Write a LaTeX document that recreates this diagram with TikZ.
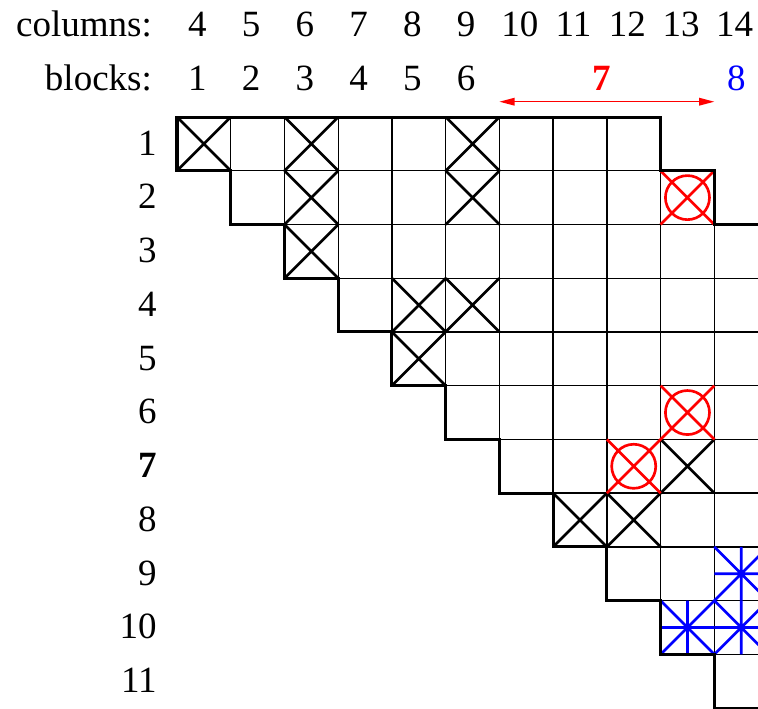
\documentclass[tikz,border=0pt]{standalone}
\usepackage{fontspec}
\setmainfont{Liberation Serif}
\usetikzlibrary{arrows.meta}

\begin{document}
\begin{tikzpicture}[
  cell/.style={draw, line width=0.7pt},
  outline/.style={draw, line width=1.6pt, line join=miter},
  cross/.style={draw, line width=1.4pt},
  redcross/.style={draw=red, line width=1.4pt},
  bluestar/.style={draw=blue, line width=1.4pt},
  lbl/.style={font=\fontsize{19.6}{24}\selectfont, inner sep=0pt, anchor=base},
  rowlbl/.style={lbl, anchor=base east}
]
\useasboundingbox (-3.294,2.178) rectangle (10.813,-11.01);
\clip (-3.294,2.178) rectangle (10.813,-11.01);

% header labels
\node[lbl, anchor=base east] (colhead) at (-0.46,1.507) {columns:};
\node[lbl, anchor=base east] (blkhead) at (-0.46,0.50) {blocks:};
\foreach \c in {4,...,14}
  \node[lbl] (col\c) at (\c-4+0.5-0.12,1.507) {\c};
\foreach \b in {1,...,6}
  \node[lbl] (blk\b) at (\b-1+0.5-0.12,0.50) {\b};
\node[lbl, text=red, font=\fontsize{19.6}{24}\selectfont\bfseries] (blk7) at (7.9,0.50) {7};
\node[lbl, text=blue] (blk8) at (10.41,0.50) {8};

% block 7 span
\coordinate (b7l) at (6,0.285);
\coordinate (b7r) at (10,0.285);
\draw[red, line width=0.7pt, {Triangle[length=8pt,width=4pt]}-{Triangle[length=8pt,width=4pt]}] (b7l) -- (b7r);

% row labels
\foreach \r in {1,...,6,8,9,10,11}
  \node[rowlbl] (row\r) at (-0.37,-\r+0.5-0.21) {\r};
\node[rowlbl, font=\fontsize{19.6}{24}\selectfont\bfseries] (row7) at (-0.37,-7+0.5-0.21) {7};

% cells
\foreach \s/\r/\e in {0/1/8,1/2/9,2/3/10,3/4/10,4/5/10,5/6/10,6/7/10,7/8/10,8/9/10,9/10/10,10/11/10}
  \foreach \j in {\s,...,\e}
    \draw[cell] (\j,1-\r) rectangle (\j+1,-\r);

% marks
\foreach \c/\r in {4/1,6/1,9/1,6/2,9/2,6/3,8/4,9/4,8/5,13/7,11/8,12/8}
  \draw[cross] (\c-4,1-\r) -- (\c-3,-\r) (\c-4,-\r) -- (\c-3,1-\r);
\foreach \c/\r in {13/2,13/6,12/7}
  \draw[redcross] (\c-4,1-\r) -- (\c-3,-\r) (\c-4,-\r) -- (\c-3,1-\r)
    (\c-3.5,0.5-\r) circle (0.41);
\foreach \c/\r in {14/9,13/10,14/10}
  \draw[bluestar] (\c-4,1-\r) -- (\c-3,-\r) (\c-4,-\r) -- (\c-3,1-\r)
    (\c-4,0.5-\r) -- (\c-3,0.5-\r) (\c-3.5,1-\r) -- (\c-3.5,-\r);

% outline
\draw[outline] (11,-2) -- (10,-2) -- (10,-1) -- (9,-1) -- (9,0) -- (0,0)
  \foreach \k in {1,...,11} { -- (\k-1,-\k) -- (\k,-\k) };

\end{tikzpicture}
\end{document}
